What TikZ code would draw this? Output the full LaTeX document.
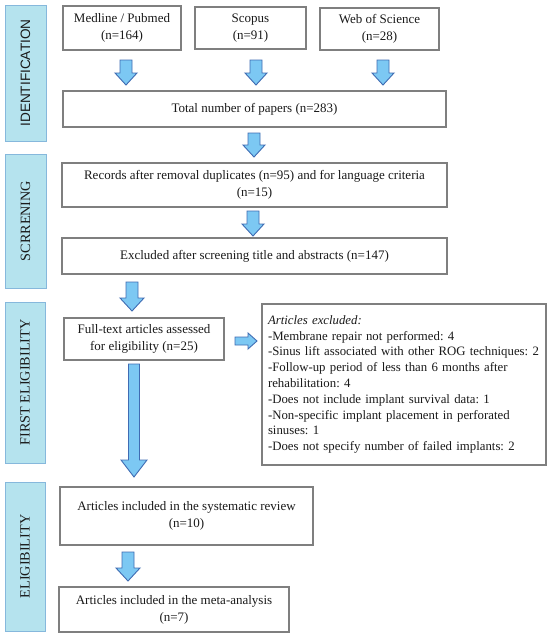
\documentclass[tikz,border=0pt]{standalone}
\usepackage{fontspec}
\setmainfont{Liberation Serif}
\setsansfont{Liberation Sans}
\frenchspacing
\definecolor{barfill}{HTML}{B5E3EE}
\definecolor{barline}{HTML}{86B8DC}
\definecolor{boxline}{HTML}{7F7F7F}
\definecolor{arrfill}{HTML}{7CC8F3}
\definecolor{arrline}{HTML}{3F6CB3}
\definecolor{txt}{HTML}{1A1A1A}
\newcommand\myDown[6]{% x, ytop, ybot, half shaft, half head, head length
  \filldraw[blk] ({#1-#4},#2) -- ({#1+#4},#2) -- ({#1+#4},{#3-#6}) -- ({#1+#5},{#3-#6})
    -- (#1,#3) -- ({#1-#5},{#3-#6}) -- ({#1-#4},{#3-#6}) -- cycle;}
\newcommand\myRight[6]{% y, xleft, xright, half shaft, half head, head length
  \filldraw[blk] (#2,{#1-#4}) -- (#2,{#1+#4}) -- ({#3-#6},{#1+#4}) -- ({#3-#6},{#1+#5})
    -- (#3,#1) -- ({#3-#6},{#1-#5}) -- ({#3-#6},{#1-#4}) -- cycle;}
\tikzset{
  box/.style={draw=boxline, line width=1.1pt, fill=white, inner sep=2pt, align=center,
    font=\fontsize{13}{17}\selectfont, text=txt},
  bar/.style={draw=barline, fill=barfill, line width=0.8pt, rotate=90, inner sep=0pt,
    font=\fontsize{14.2}{16}\selectfont, text=txt},
  blk/.style={draw=arrline, fill=arrfill, line width=0.9pt, line join=miter},
}
\begin{document}
\begin{tikzpicture}[x=1pt,y=-1pt]
\useasboundingbox (0,0) rectangle (550,637);
\fill[white] (0,0) rectangle (550,637);

% side bars
\node[bar, minimum width=136pt, minimum height=41pt, font=\sffamily\fontsize{13.6}{15}\selectfont] (b1) at (25.5,73) {IDENTIFICATION};
\node[bar, minimum width=134pt, minimum height=41pt] (b2) at (25.5,221) {SCRRENING};
\node[bar, minimum width=161pt, minimum height=40pt] (b3) at (25,382.5) {FIRST ELIGIBILITY};
\node[bar, minimum width=149pt, minimum height=40pt] (b4) at (25,556.5) {ELIGIBILITY};

% boxes
\node[box, minimum width=118pt, minimum height=44pt] (med) at (122,28) {Medline / Pubmed\\(n=164)};
\node[box, minimum width=111pt, minimum height=42pt] (sco) at (250.5,28) {Scopus\\(n=91)};
\node[box, minimum width=119pt, minimum height=42pt] (wos) at (379.5,29) {Web of Science\\(n=28)};
\node[box, minimum width=383pt, minimum height=36pt] (tot) at (254.5,109) {Total number of papers (n=283)};
\node[box, minimum width=385pt, minimum height=44pt] (rec) at (254.5,185) {Records after removal duplicates (n=95) and for language criteria\\(n=15)};
\node[box, minimum width=385pt, minimum height=36pt] (exc) at (254.5,256) {Excluded after screening title and abstracts (n=147)};
\node[box, minimum width=160pt, minimum height=42pt] (ful) at (144,339) {Full-text articles assessed\\for eligibility (n=25)};
\node[box, minimum width=284pt, minimum height=161pt, align=left, inner sep=0pt,
  font=\fontsize{12.8}{15.8}\selectfont, text width=272pt] (lst) at (404,384.5)
  {\textit{Articles excluded:}\\
   -Membrane repair not performed: 4\\
   -Sinus lift associated with other ROG techniques: 2\\
   -Follow-up period of less than 6 months after\\
   rehabilitation: 4\\
   -Does not include implant survival data: 1\\
   -Non-specific implant placement in perforated\\
   sinuses: 1\\
   -Does not specify number of failed implants: 2};
\node[box, minimum width=253pt, minimum height=58pt] (sys) at (186.5,516) {Articles included in the systematic review\\(n=10)};
\node[box, minimum width=230pt, minimum height=45pt] (met) at (174,609.5) {Articles included in the meta-analysis\\(n=7)};

% block arrows
\myDown{126}{60}{85}{6}{11}{12}
\myDown{256}{60}{85}{6}{11}{12}
\myDown{383}{60}{85}{6}{11}{12}
\myDown{254}{133}{157}{6}{11}{12}
\myDown{253}{211}{236}{6}{11}{12}
\myDown{132}{282}{311}{6}{12}{13}
\myDown{134}{364}{477}{5.5}{13}{17}
\myDown{128}{552}{581}{6}{12}{13}
\myRight{341}{235}{257}{4}{8}{9}
\end{tikzpicture}
\end{document}
